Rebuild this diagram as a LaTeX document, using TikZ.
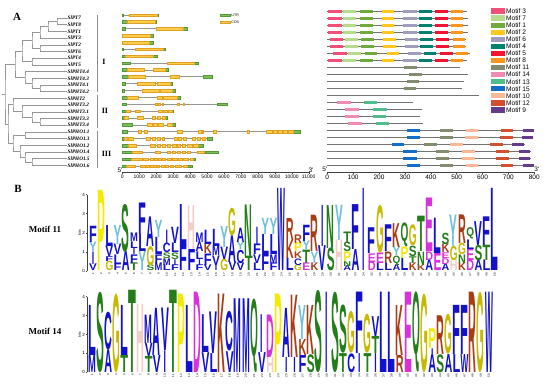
\documentclass[tikz,border=0pt]{standalone}
\usepackage{fontspec}
\setmainfont{Liberation Serif}
\newfontfamily\arialfont{Liberation Sans}
\newfontfamily\logofont{Liberation Sans}
\usepackage{graphicx}
\usepackage{xcolor}
% tree and gene structure colours
\definecolor{treegray}{RGB}{150,150,150}
\definecolor{bargray}{RGB}{140,140,140}
\definecolor{introngray}{RGB}{150,150,150}
\definecolor{utrgreen}{RGB}{125,190,90}
\definecolor{utrdark}{RGB}{85,150,55}
\definecolor{cdsyellow}{RGB}{252,205,75}
\definecolor{cdsdark}{RGB}{225,160,35}
\definecolor{protgray}{RGB}{115,115,115}
% motif colours
\definecolor{mot3}{RGB}{240,80,120}
\definecolor{mot7}{RGB}{180,220,140}
\definecolor{mot1}{RGB}{110,170,60}
\definecolor{mot2}{RGB}{255,200,30}
\definecolor{mot6}{RGB}{160,158,190}
\definecolor{mot4}{RGB}{0,130,110}
\definecolor{mot5}{RGB}{240,20,50}
\definecolor{mot8}{RGB}{250,150,30}
\definecolor{mot11}{RGB}{130,140,110}
\definecolor{mot14}{RGB}{240,140,180}
\definecolor{mot13}{RGB}{80,190,140}
\definecolor{mot15}{RGB}{20,110,200}
\definecolor{mot10}{RGB}{250,185,150}
\definecolor{mot12}{RGB}{210,80,50}
\definecolor{mot9}{RGB}{100,60,140}
% logo letter colours
\definecolor{lgA}{RGB}{18,18,205}
\colorlet{lgC}{lgA}\colorlet{lgF}{lgA}\colorlet{lgI}{lgA}\colorlet{lgL}{lgA}
\colorlet{lgM}{lgA}\colorlet{lgV}{lgA}\colorlet{lgW}{lgA}
\definecolor{lgN}{RGB}{35,125,25}
\colorlet{lgQ}{lgN}\colorlet{lgS}{lgN}\colorlet{lgT}{lgN}
\definecolor{lgD}{RGB}{215,50,220}
\colorlet{lgE}{lgD}
\definecolor{lgK}{RGB}{170,60,20}
\colorlet{lgR}{lgK}
\definecolor{lgH}{RGB}{245,205,200}
\definecolor{lgG}{RGB}{200,185,0}
\definecolor{lgP}{RGB}{240,235,0}
\definecolor{lgY}{RGB}{110,190,220}

\tikzset{
  panellab/.style={font=\fontsize{11}{11}\selectfont\bfseries, inner sep=0pt},
  leaf/.style={anchor=west, inner sep=1pt, font=\fontsize{5.2}{6}\selectfont\bfseries\itshape},
  branch/.style={draw=treegray, line width=0.5pt},
  cladebar/.style={draw=bargray, line width=0.8pt},
  cladelab/.style={font=\fontsize{8}{8}\selectfont\bfseries, inner sep=0pt},
  intron/.style={draw=introngray, line width=0.5pt},
  utrbox/.style={fill=utrgreen, draw=utrdark, line width=0.2pt},
  cdsbox/.style={fill=cdsyellow, draw=cdsdark, line width=0.2pt},
  keylab/.style={anchor=west, inner sep=0.5pt, font=\arialfont\fontsize{3.6}{4}\selectfont},
  axline/.style={draw=black!75, line width=0.5pt},
  genetick/.style={anchor=north, inner sep=0.5pt, font=\arialfont\fontsize{5}{5}\selectfont},
  motiftick/.style={anchor=north, inner sep=0.5pt, font=\arialfont\fontsize{6.5}{6.5}\selectfont},
  endlab/.style={inner sep=0.5pt, font=\arialfont\fontsize{6.5}{6.5}\selectfont},
  protline/.style={draw=protgray, line width=0.6pt},
  motlab/.style={anchor=west, inner sep=0.5pt, font=\arialfont\fontsize{6.6}{7}\selectfont},
  motiftitle/.style={font=\fontsize{9}{9}\selectfont\bfseries, inner sep=0pt},
  logochar/.style={anchor=south, inner sep=0pt, outer sep=0pt},
  bitlab/.style={anchor=east, inner sep=0.3pt, font=\arialfont\fontsize{4.5}{4.5}\selectfont},
  bitsword/.style={rotate=90, inner sep=0pt, font=\arialfont\fontsize{3.5}{3.5}\selectfont},
  posnum/.style={rotate=90, anchor=east, inner sep=0.3pt, font=\arialfont\fontsize{3}{3}\selectfont}
}

\newdimen\bitunit
\def\thinI{I}
% one stacked column of a sequence logo
\newcommand{\logocol}[3]{%
  \gdef\stacky{0}%
  \foreach \lc/\lh in #3 {%
    \edef\tmpl{\lc}%
    \ifx\tmpl\thinI\def\lw{2.4pt}\else\def\lw{7.8pt}\fi
    \node[logochar] at ({#1},{#2-\stacky}) {\resizebox*{\lw}{\lh\bitunit}{\textcolor{lg\lc}{\logofont\bfseries\lc}}};
    \pgfmathsetmacro\nexty{\stacky+\lh*\bitunit}%
    \xdef\stacky{\nexty}%
  }}
% axis of a sequence logo
\newcommand{\logoaxis}[2]{%
  \draw[axline] (87,#1) -- (87,{#1-4*#2});
  \foreach \b in {0,...,4} {
    \draw[axline] (87,{#1-\b*#2}) -- (85.6,{#1-\b*#2});
    \node[bitlab] at (85.4,{#1-\b*#2}) {\b};
  }
  \node[bitsword] at (79.5,{#1-2*#2}) {bits};}
% one gene model
\newcommand{\generow}[4]{%
  \pgfmathsetmacro\gy{15+6.86*#1}%
  \draw[intron] (0,\gy) -- (#2,\gy);
  \foreach \a/\b in {#3} \filldraw[utrbox] (\a,\gy-1.3) rectangle (\b,\gy+1.3);
  \foreach \a/\b in {#4} \filldraw[cdsbox] (\a,\gy-1.3) rectangle (\b,\gy+1.3);}
% one protein with its motifs
\newcommand{\protrow}[4]{%
  \pgfmathsetmacro\py{11.7+7*#1}%
  \draw[protline] (0,\py) -- (#2,\py);
  \foreach \m/\a/\b in #3 \fill[fill=mot\m] (\a+#4,\py-1.6) rectangle (\b+#4,\py+1.6);}
\newcommand{\ptmotifs}{3/4/56,7/62/111,1/126/175,2/210/258,6/294/345,4/354/403,5/416/465,8/478/526}

\begin{document}
\begin{tikzpicture}[x=1pt,y=-1pt]
  \useasboundingbox (0,0) rectangle (550,385);

  % Panel labels
  \node[panellab] (labA) at (17,17) {A};
  \node[panellab] (labB) at (18,189) {B};

  % Tree leaves
  \foreach \nm/\lab [count=\i from 0] in {pt7/SlPT7,pt8/SlPT8,pt1/SlPT1,pt3/SlPT3,pt2/SlPT2,pt6/SlPT6,pt4/SlPT4,pt5/SlPT5,
      pht44/SlPHT4.4,pht43/SlPHT4.3,pht41/SlPHT4.1,pht42/SlPHT4.2,pht2/SlPHT2,pht32/SlPHT3.2,pht31/SlPHT3.1,pht33/SlPHT3.3,pht34/SlPHT3.4,
      pho11/SlPHO1.1,pho13/SlPHO1.3,pho12/SlPHO1.2,pho14/SlPHO1.4,pho15/SlPHO1.5,pho16/SlPHO1.6}
    \node[leaf] (\nm) at (66.5,{18+6.7*\i}) {\lab};

  % Tree inner nodes
  \coordinate (n01) at (57,21.35);
  \coordinate (n012) at (48,26.4);
  \coordinate (n0123) at (40,32.25);
  \coordinate (n45) at (40,48.15);
  \coordinate (nA) at (32,40.2);
  \coordinate (n67) at (32,61.55);
  \coordinate (nPT) at (22,50.9);
  \coordinate (n1011) at (40,88.35);
  \coordinate (n910) at (32,83.3);
  \coordinate (nPHT4) at (25,77.45);
  \coordinate (nI) at (15,64.2);
  \coordinate (n1516) at (40,121.85);
  \coordinate (n1416) at (32,116.8);
  \coordinate (n1316) at (22,110.95);
  \coordinate (nII) at (13,104.7);
  \coordinate (n1718) at (25,135.25);
  \coordinate (n2122) at (32,162.05);
  \coordinate (n2022) at (25,157.0);
  \coordinate (n1922) at (20,151.15);
  \coordinate (nIII) at (13,143.2);
  \coordinate (nIIIall) at (8,123.95);
  \coordinate (root) at (5,94.1);

  % Tree branches
  \foreach \p/\a/\b in {n01/pt7.west/pt8.west, n012/n01/pt1.west, n0123/n012/pt3.west, n45/pt2.west/pt6.west,
      nA/n0123/n45, n67/pt4.west/pt5.west, nPT/nA/n67, n1011/pht41.west/pht42.west, n910/pht43.west/n1011,
      nPHT4/pht44.west/n910, nI/nPT/nPHT4, n1516/pht33.west/pht34.west, n1416/pht31.west/n1516,
      n1316/pht32.west/n1416, nII/pht2.west/n1316, n1718/pho11.west/pho13.west, n2122/pho15.west/pho16.west,
      n2022/pho14.west/n2122, n1922/pho12.west/n2022, nIII/n1718/n1922, nIIIall/nII/nIII, root/nI/nIIIall}
    \draw[branch] (\a) -| (\p) |- (\b);
  \draw[branch] (root) -- ++(-3,0);

  % Clade bars
  \draw[cladebar] (97,15) -- (97,92.5);
  \draw[cladebar] (97,95.5) -- (97,128);
  \draw[cladebar] (97,131.5) -- (97,168);
  \node[cladelab] (cI) at (104,62) {I};
  \node[cladelab] (cII) at (105,111) {II};
  \node[cladelab] (cIII) at (106.5,154) {III};

  % Gene structures
  \begin{scope}[shift={(122.3,0)}, x=16.95pt]
    \generow{0}{2.12}{0/0.06,2.03/2.12}{0.41/2.03}
    \generow{1}{1.99}{0/0.29,1.93/1.99}{0.29/1.93}
    \generow{2}{3.80}{0/0.16,3.60/3.80}{1.97/3.60}
    \generow{3}{1.83}{1.63/1.83}{0/1.63}
    \generow{4}{1.79}{1.59/1.79}{0/1.59}
    \generow{5}{2.52}{0/0.06,2.38/2.52}{0.75/2.38}
    \generow{6}{2.03}{0/0.16,1.79/2.03}{0.16/1.79}
    \generow{7}{4.48}{0/0.45,4.23/4.48}{2.62/4.23}
    \generow{8}{2.71}{0/0.26,2.52/2.71}{0.26/1.30,1.83/2.52}
    \generow{9}{5.27}{0/0.35,4.74/5.27}{0.35/1.34,2.81/3.34}
    \generow{10}{2.91}{0/0.16,2.81/2.91}{0.88/1.93,2.03/2.81}
    \generow{11}{3.11}{0/0.10,2.91/3.11}{1.14/2.16,2.22/2.91}
    \generow{12}{3.40}{0/0.26,3.21/3.40}{0.26/0.94,2.08/2.32,2.42/3.21}
    \generow{13}{6.16}{0/0.22,5.57/6.16}{1.93/2.03,2.12/2.22,2.32/2.42,3.21/3.36,3.56/3.64}
    \generow{14}{3.01}{0/0.22,2.91/3.01}{0.22/0.45,0.75/1.04,2.12/2.36,2.42/2.62,2.71/2.91}
    \generow{15}{2.62}{0/0.10,2.52/2.62}{0.10/0.35,0.85/1.24,1.73/1.93,2.03/2.22,2.32/2.52}
    \generow{16}{3.11}{0/0.55,2.91/3.11}{1.44/1.73,1.83/2.03,2.12/2.42,2.62/2.91}
    \generow{17}{10.48}{0/0.26,10.05/10.48}{0.94/1.08,1.28/1.44,3.21/3.50,4.48/4.62,4.68/4.78,5.37/5.53,7.34/7.49,8.46/8.81,8.91/9.11,9.20/9.40,9.50/9.70,9.79/10.05}
    \generow{18}{5.27}{0/0.10,4.98/5.27}{0.10/0.29,0.35/0.65,1.40/1.63,1.73/1.93,2.03/2.22,2.32/2.46,3.05/3.21,3.30/3.44,3.56/3.76,4.09/4.29,4.39/4.58,4.68/4.88}
    \generow{19}{4.74}{0/0.35,4.48/4.74}{0.35/0.81,1.63/1.93,2.03/2.22,2.32/2.52,2.62/2.81,2.91/3.17,3.21/3.40,3.50/3.70,3.80/4.09,4.19/4.48}
    \generow{20}{5.66}{0/0.55,4.88/5.66}{0.55/1.14,1.93/2.22,2.62/2.81,2.91/3.11,3.21/3.40,3.50/3.70,3.80/3.99,4.42/4.82}
    \generow{21}{4.29}{0/0.49,4.19/4.29}{0.49/1.14,1.24/1.53,1.63/1.83,1.89/2.03,2.12/2.26,2.32/2.52,2.62/2.85,2.91/3.21,3.30/3.50,3.60/3.89,3.99/4.19}
    \generow{22}{4.09}{0/0.22,3.83/4.09}{0.22/0.75,1.04/1.34,1.40/1.59,1.63/1.79,1.83/1.97,2.03/2.18,2.26/2.46,2.52/2.71,2.81/3.01,3.11/3.44,3.56/3.83}
    % legend
    \filldraw[utrbox] (5.77,13.7) rectangle (6.37,16.3);
    \node[keylab] (keyutr) at (6.4,15) {UTR};
    \filldraw[cdsbox] (5.77,20.7) rectangle (6.37,23.3);
    \node[keylab] (keycds) at (6.4,22) {CDS};
    % scale
    \draw[axline] (0,172.3) -- (11,172.3);
    \foreach \k in {0,...,11} {
      \draw[axline] (\k,172.3) -- (\k,173.8);
      \pgfmathtruncatemacro\kb{\k*1000}
      \node[genetick] at (\k,174.5) {\kb};
    }
    \node[endlab, anchor=south east] (g5) at (0.05,173) {5'};
    \node[endlab, anchor=south west] (g3) at (10.95,173) {3'};
  \end{scope}

  % Conserved motifs
  \begin{scope}[shift={(327.3,0)}, x=0.25875pt]
    \protrow{0}{539}{\ptmotifs}{0}
    \protrow{1}{542}{\ptmotifs}{0}
    \protrow{2}{545}{\ptmotifs}{0}
    \protrow{3}{542}{\ptmotifs}{0}
    \protrow{4}{536}{\ptmotifs}{6}
    \protrow{5}{536}{\ptmotifs}{6}
    \protrow{6}{552}{\ptmotifs}{19}
    \protrow{7}{539}{\ptmotifs}{0}
    \protrow{8}{513}{{11/296/345}}{0}
    \protrow{9}{545}{{11/317/365}}{0}
    \protrow{10}{528}{{11/307/356}}{0}
    \protrow{11}{519}{{11/296/343}}{0}
    \draw[protline] (0,95.7) -- (588,95.7);
    \protrow{13}{330}{{14/39/90,13/142/191}}{0}
    \protrow{14}{365}{{14/68/124,13/178/229}}{0}
    \protrow{15}{358}{{14/68/124,13/178/227}}{0}
    \protrow{16}{369}{{14/81/133,13/188/240}}{0}
    \protrow{17}{800}{{15/309/358,11/436/485,10/536/584,12/670/719,9/755/799}}{0}
    \protrow{18}{796}{{15/309/358,11/436/485,10/533/584,12/667/716,9/751/796}}{0}
    \protrow{19}{764}{{15/249/296,11/374/423,10/474/523,12/629/678,9/713/760}}{0}
    \protrow{20}{786}{{15/294/345,11/420/472,10/519/571,12/652/704,9/740/784}}{0}
    \protrow{21}{786}{{15/294/345,11/420/472,10/519/571,12/652/704,9/740/784}}{0}
    \protrow{22}{800}{{15/309/358,11/436/485,10/536/584,12/670/719,9/755/799}}{0}
    % scale
    \draw[axline] (0,172.3) -- (800,172.3);
    \foreach \k in {0,100,...,800} {
      \draw[axline] (\k,172.3) -- (\k,173.8);
      \node[motiftick] at (\k,174.2) {\k};
    }
    \node[endlab, anchor=south east] (p5) at (2,172) {5'};
    \node[endlab, anchor=south west] (p3) at (798,172) {3'};
  \end{scope}

  % Motif legend
  \foreach \m [count=\i from 0] in {3,7,1,2,6,4,5,8,11,14,13,15,10,12,9} {
    \fill[fill=mot\m] (491,{11+7.07*\i-2.6}) rectangle (505,{11+7.07*\i+2.6});
    \node[motlab] (key\m) at (505.5,{11+7.07*\i}) {Motif \m};
  }

  % Logo of motif 11
  \node[motiftitle] (title11) at (45,229.5) {Motif 11};
  \global\bitunit=19.1pt
  \logoaxis{271}{19.1}
  \foreach \stk [count=\i] in {{V/0.35,I/0.65,Y/0.5,F/0.85},{P/4.2},{G/0.5,F/0.25,V/0.55,L/1.1},{F/0.35,L/0.5,V/0.55,Y/1.0},
      {A/1.0,S/2.5},{T/0.4,F/0.45,I/0.35,L/0.35,M/0.45},{Y/1.0,L/0.9,F/1.65},{S/0.3,G/1.0,A/1.55},
      {M/0.4,F/0.45,L/0.9,Y/0.9},{L/0.3,M/0.35,S/0.3,C/0.5,I/0.7},{F/0.3,I/0.3,S/0.35,L/0.5,V/0.85},{F/1.3,L/2.2},
      {F/1.1,H/2.3},{F/0.3,I/0.3,L/0.4,A/0.5,M/0.5},{V/0.3,F/0.6,K/0.5,L/0.75},{I/0.3,V/0.5,M/0.5,L/0.9},
      {G/0.6,V/0.65,Y/1.1},{V/0.45,A/1.4,G/1.45},{V/0.4,C/0.7,Y/0.4,A/0.75},{T/0.75,N/2.7},
      {L/0.4,V/0.45,F/0.55,I/0.9},{F/0.85,L/1.05,Y/0.85},{F/0.4,M/0.45,L/1.05,Y/0.85},{W/4.3},
      {L/0.65,K/0.95,R/1.15},{G/0.3,C/0.35,K/0.35,P/0.45,R/0.45},{E/0.4,T/0.7,Y/0.45,F/0.85},{K/0.4,Y/0.6,R/1.9},
      {V/1.3,I/2.15},{S/1.2,N/2.25},{H/1.6,Y/1.85},{A/0.25,N/0.25,P/0.5,S/0.5,T/0.55},
      {A/1.1,F/2.35},{I/4.3},{D/0.45,E/0.45,F/1.35},{L/0.4,E/0.55,G/2.5},
      {L/0.4,R/0.6,F/1.4},{A/0.3,Q/0.5,Y/0.45,K/1.25},{L/0.65,P/0.6,Q/1.25},{K/0.4,T/0.35,S/0.55,G/1.1},
      {K/0.3,N/0.7,T/1.85},{A/0.55,D/0.45,E/2.8},{E/0.9,L/1.85},{A/0.35,D/0.3,E/0.3,K/0.45,S/0.6},
      {H/0.55,G/0.75,Y/1.65},{K/0.4,N/0.45,G/0.6,R/1.5},{D/0.55,E/0.6,L/0.5,Q/0.6},{A/0.55,S/0.8,V/1.25},
      {L/0.55,T/0.8,F/1.5},{L/4.3}}
    {\logocol{93+8.2*(\i-1)}{271}{\stk}}
  \foreach \i in {1,...,50}
    \node[posnum] at ({93+8.2*(\i-1)},272.5) {\i};

  % Logo of motif 14
  \node[motiftitle] (title14) at (45,331.5) {Motif 14};
  \global\bitunit=18.9pt
  \logoaxis{372.3}{18.9}
  \foreach \stk [count=\i] in {{M/0.9,L/2.65},{S/4.25},{A/1.2,C/2.0},{G/4.15},{T/0.9,L/2.65},{T/4.35},{H/3.6},{T/0.85,V/0.7,M/1.5},
      {V/0.9,A/2.5},{I/1.15,V/2.25},{T/4.35},{P/4.15},{L/3.55},{D/4.25},{V/1.05,L/2.0},{L/1.0,V/2.2},
      {K/4.15},{V/1.1,C/2.1},{M/3.9},{M/3.9},{Q/3.9},{V/1.05,I/2.0},{H/0.8,D/2.25},{P/4.15},
      {I/0.8,A/2.6},{I/0.8,K/3.3},{F/0.9,K/0.85,Y/1.8},{S/0.95,K/2.6},{S/4.35},{I/4.25},{S/4.25},{T/1.0,S/2.55},
      {C/1.0,G/2.2},{I/1.0,F/3.25},{T/1.0,G/2.05},{I/1.0,T/0.9,V/1.05},{L/4.25},{L/4.25},{R/0.9,K/2.65},{E/4.25},
      {Q/4.25},{G/4.15},{A/0.95,I/0.3,P/1.05},{S/0.95,R/2.05},{A/0.95,G/2.1},{L/0.95,F/2.6},{W/0.95,F/2.6},{R/4.25},
      {G/4.25},{W/4.25}}
    {\logocol{92+8.1*(\i-1)}{372.3}{\stk}}
  \foreach \i in {1,...,50}
    \node[posnum] at ({92+8.1*(\i-1)},373.8) {\i};
\end{tikzpicture}
\end{document}
